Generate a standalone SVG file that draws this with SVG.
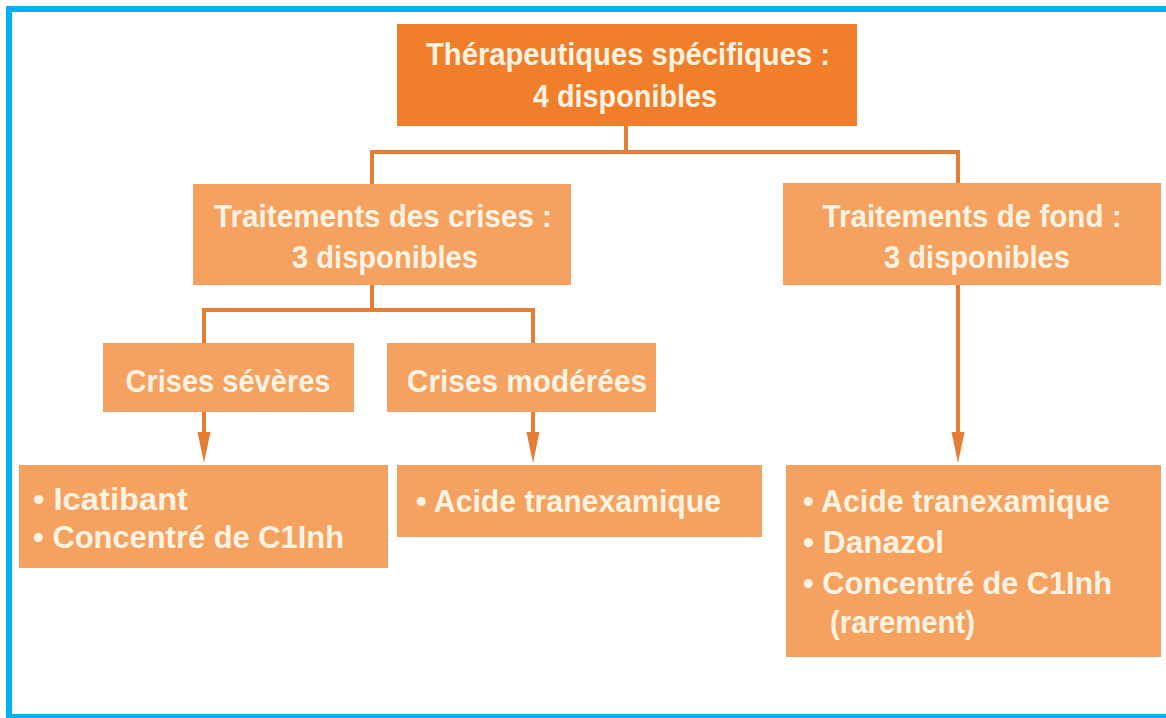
<svg xmlns="http://www.w3.org/2000/svg" width="1166" height="718" viewBox="0 0 1166 718">
  <defs>
    <style>
      .dark { fill: #f07e2a; }
      .light { fill: #f5a160; }
      .t { font-family: "Liberation Sans", Arial, sans-serif; font-weight: bold; font-size: 32px; fill: #fdf3e2; }
      .c { text-anchor: middle; }
      .conn { fill: none; stroke: #e57d35; stroke-width: 4; }
      .head { fill: #e57d35; }
    </style>
  </defs>
  <rect x="0" y="0" width="1166" height="718" fill="#ffffff"/>
  <rect x="9" y="9" width="1180" height="708" fill="none" stroke="#00b0f0" stroke-width="6"/>

  <g id="connectors">
    <path class="conn" d="M626,126 V152 M372,184 V152 H958 V183"/>
    <path class="conn" d="M372,285 V310 H204 V343 M372,310 H533 V343"/>
    <line x1="204" y1="412" x2="204" y2="433" class="conn"/>
    <path class="head" d="M197.5,432 H210.5 L204,463 Z"/>
    <line x1="533" y1="412" x2="533" y2="433" class="conn"/>
    <path class="head" d="M526.5,432 H539.5 L533,463 Z"/>
    <line x1="958" y1="285" x2="958" y2="433" class="conn"/>
    <path class="head" d="M951.5,432 H964.5 L958,463 Z"/>
  </g>

  <g id="n-top">
    <rect class="dark" x="397" y="24" width="460" height="102"/>
    <text class="t c" x="628" y="65" textLength="404" lengthAdjust="spacingAndGlyphs">Thérapeutiques spécifiques :</text>
    <text class="t c" x="625" y="107" textLength="184" lengthAdjust="spacingAndGlyphs">4 disponibles</text>
  </g>

  <g id="n-crises">
    <rect class="light" x="193" y="184" width="378" height="101"/>
    <text class="t c" x="383" y="227" textLength="338" lengthAdjust="spacingAndGlyphs">Traitements des crises :</text>
    <text class="t c" x="385" y="268" textLength="186" lengthAdjust="spacingAndGlyphs">3 disponibles</text>
  </g>

  <g id="n-fond">
    <rect class="light" x="783" y="183" width="378" height="102"/>
    <text class="t c" x="972" y="227" textLength="299" lengthAdjust="spacingAndGlyphs">Traitements de fond :</text>
    <text class="t c" x="977" y="268" textLength="186" lengthAdjust="spacingAndGlyphs">3 disponibles</text>
  </g>

  <g id="n-severes">
    <rect class="light" x="103" y="343" width="251" height="69"/>
    <text class="t c" x="228" y="392" textLength="205" lengthAdjust="spacingAndGlyphs">Crises sévères</text>
  </g>

  <g id="n-moderees">
    <rect class="light" x="387" y="343" width="269" height="69"/>
    <text class="t c" x="527" y="392" textLength="240" lengthAdjust="spacingAndGlyphs">Crises modérées</text>
  </g>

  <g id="n-list-severes">
    <rect class="light" x="19" y="465" width="369" height="103"/>
    <text class="t" x="33" y="510" textLength="155" lengthAdjust="spacingAndGlyphs">• Icatibant</text>
    <text class="t" x="33" y="548" textLength="311" lengthAdjust="spacingAndGlyphs">• Concentré de C1Inh</text>
  </g>

  <g id="n-list-moderees">
    <rect class="light" x="397" y="465" width="365" height="72"/>
    <text class="t" x="416" y="512" textLength="305" lengthAdjust="spacingAndGlyphs">• Acide tranexamique</text>
  </g>

  <g id="n-list-fond">
    <rect class="light" x="786" y="465" width="375" height="192"/>
    <text class="t" x="803" y="512" textLength="307" lengthAdjust="spacingAndGlyphs">• Acide tranexamique</text>
    <text class="t" x="803" y="553" textLength="141" lengthAdjust="spacingAndGlyphs">• Danazol</text>
    <text class="t" x="803" y="594" textLength="309" lengthAdjust="spacingAndGlyphs">• Concentré de C1Inh</text>
    <text class="t" x="830" y="633" textLength="145" lengthAdjust="spacingAndGlyphs">(rarement)</text>
  </g>
</svg>
